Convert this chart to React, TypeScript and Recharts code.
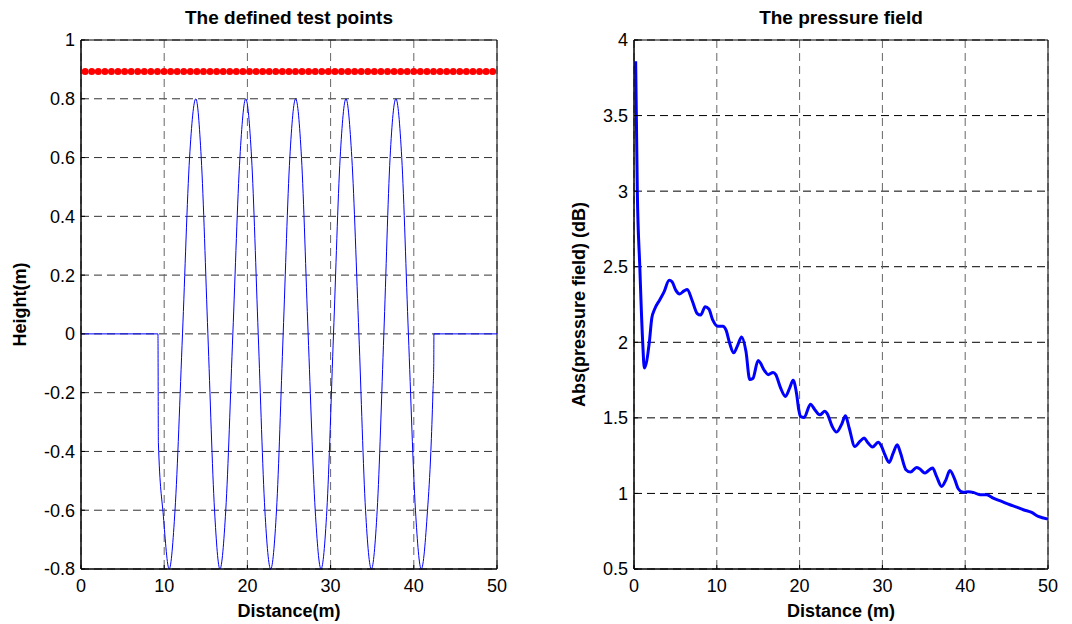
import React from 'react';
import { LineChart, Line, XAxis, YAxis, CartesianGrid, ReferenceArea, Label } from 'recharts';

// left panel: seabed profile and the test points above it
const profileX = [0, 9.25, 9.3, 9.9, 10.6, 11.3, 12.2, 13.05, 13.8, 14.45, 15.25, 16.05, 16.7, 17.4, 18.25, 19.1, 19.8, 20.5, 21.3, 22.1, 22.8, 23.5, 24.3, 25.1, 25.8, 26.5, 27.3, 28.15, 28.85, 29.55, 30.35, 31.15, 31.85, 32.55, 33.4, 34.2, 34.9, 35.6, 36.4, 37.15, 37.85, 38.55, 39.35, 40.2, 40.9, 41.65, 42.05, 42.3, 42.4, 42.42, 50];
const profileY = [0, 0, -0.37, -0.62, -0.8, -0.6, 0, 0.6, 0.8, 0.6, 0, -0.6, -0.8, -0.6, 0, 0.6, 0.8, 0.6, 0, -0.6, -0.8, -0.6, 0, 0.6, 0.8, 0.6, 0, -0.6, -0.8, -0.6, 0, 0.6, 0.8, 0.6, 0, -0.6, -0.8, -0.6, 0, 0.6, 0.8, 0.6, 0, -0.6, -0.8, -0.6, -0.4, -0.2, -0.1, 0, 0];

const testX = [0.5, 1.29, 2.08, 2.87, 3.66, 4.45, 5.24, 6.03, 6.82, 7.61, 8.4, 9.19, 9.98, 10.77, 11.56, 12.35, 13.14, 13.93, 14.72, 15.51, 16.3, 17.09, 17.88, 18.67, 19.46, 20.25, 21.04, 21.83, 22.62, 23.41, 24.2, 24.99, 25.78, 26.57, 27.36, 28.15, 28.94, 29.73, 30.52, 31.31, 32.1, 32.89, 33.68, 34.47, 35.26, 36.05, 36.84, 37.63, 38.42, 39.21, 40.0, 40.79, 41.58, 42.37, 43.16, 43.95, 44.74, 45.53, 46.32, 47.11, 47.9, 48.69, 49.48];
const testHeight = 0.893;

// right panel: pressure along the range
const distX = [0.2, 0.4, 0.7, 1.05, 1.25, 1.85, 2.15, 2.5, 3.1, 3.6, 4.25, 4.6, 5.04, 5.52, 6.04, 6.44, 7.0, 7.64, 8.04, 8.6, 9.04, 9.52, 10.12, 10.72, 11.12, 11.52, 12.04, 12.52, 13.0, 13.52, 13.98, 14.35, 14.99, 15.79, 16.2, 16.8, 17.12, 17.69, 18.29, 18.82, 19.22, 19.62, 19.9, 20.1, 20.55, 21.31, 21.84, 22.44, 23.05, 23.33, 23.93, 24.46, 25.06, 25.54, 25.99, 26.67, 27.28, 27.8, 28.28, 28.8, 29.49, 29.9, 30.3, 30.82, 31.3, 31.79, 32.19, 32.84, 33.4, 34.13, 34.53, 35.13, 35.45, 36.06, 36.54, 37.15, 37.67, 38.15, 38.76, 39.16, 39.76, 40.37, 40.97, 41.78, 42.59, 43.39, 44.4, 45.41, 46.21, 47.02, 48.03, 48.83, 50];
const pressure = [3.86, 3.0, 2.5, 2.0, 1.83, 2.0, 2.16, 2.22, 2.28, 2.33, 2.41, 2.4, 2.345, 2.32, 2.34, 2.35, 2.28, 2.19, 2.18, 2.235, 2.22, 2.146, 2.106, 2.106, 2.08, 2.0, 1.93, 1.98, 2.035, 1.94, 1.753, 1.76, 1.879, 1.81, 1.786, 1.8, 1.786, 1.7, 1.642, 1.7, 1.748, 1.665, 1.554, 1.51, 1.503, 1.59, 1.554, 1.52, 1.543, 1.528, 1.444, 1.406, 1.455, 1.514, 1.433, 1.311, 1.344, 1.366, 1.333, 1.307, 1.338, 1.311, 1.256, 1.205, 1.267, 1.322, 1.267, 1.157, 1.141, 1.172, 1.161, 1.135, 1.146, 1.168, 1.113, 1.046, 1.09, 1.152, 1.09, 1.031, 1.007, 1.011, 1.007, 0.991, 0.991, 0.969, 0.947, 0.925, 0.91, 0.892, 0.874, 0.848, 0.83];

const distTicks = [0, 10, 20, 30, 40, 50];
const heightTicks = [-0.8, -0.6, -0.4, -0.2, 0, 0.2, 0.4, 0.6, 0.8, 1];
const pressureTicks = [0.5, 1, 1.5, 2, 2.5, 3, 3.5, 4];

const profileData = profileX.map((x, i) => ({ x, y: profileY[i] }));
const testData = testX.map(x => ({ x, y: testHeight }));
const pressureData = distX.map((x, i) => ({ x, y: pressure[i] }));

const tickStyle = { fill: '#000', fontSize: 18 };
const axisLabelStyle = { fill: '#000', fontSize: 18, fontWeight: 'bold' as const };

const titleStyle: React.CSSProperties = {
    position: 'absolute', top: 8, fontSize: 19, lineHeight: '19px', fontWeight: 'bold', textAlign: 'center', color: '#000',
};

export default function App() {
    return (
        <div style={{ position: 'absolute', left: 0, top: 0, width: 1072, height: 624, background: '#fff', fontFamily: "'Liberation Sans', Arial, sans-serif" }}>
            <div style={{ ...titleStyle, left: 81, width: 416 }}>The defined test points</div>
            <div style={{ ...titleStyle, left: 634, width: 414 }}>The pressure field</div>

            <div style={{ position: 'absolute', left: 0, top: 0 }}>
                <LineChart width={520} height={624} margin={{ top: 40, right: 23, bottom: 5, left: 0 }}>
                    <CartesianGrid vertical={false} stroke="#333" strokeDasharray="8 5" />
                    <CartesianGrid horizontal={false} stroke="#666" strokeDasharray="8 5" />
                    <XAxis type="number" dataKey="x" domain={[0, 50]} ticks={distTicks} interval={0} tick={tickStyle}
                        stroke="#000" tickSize={-4} tickMargin={14} height={50}>
                        <Label value="Distance(m)" position="insideBottom" offset={2} style={axisLabelStyle} />
                    </XAxis>
                    <YAxis type="number" dataKey="y" domain={[-0.8, 1]} ticks={heightTicks} interval={0} tick={tickStyle}
                        stroke="#000" tickSize={-4} tickMargin={10} width={81}>
                        <Label value="Height(m)" angle={-90} position="insideLeft" offset={20} style={{ ...axisLabelStyle, textAnchor: 'middle' }} />
                    </YAxis>
                    <ReferenceArea x1={0} x2={50} y1={-0.8} y2={1} fill="none" stroke="#000" strokeOpacity={1} />
                    <Line data={profileData} dataKey="y" type="monotone" stroke="#0000ff" strokeWidth={1} dot={false} isAnimationActive={false} />
                    <Line data={testData} dataKey="y" stroke="none" dot={{ r: 3.5, fill: '#ff0000', stroke: 'none' }} isAnimationActive={false} />
                </LineChart>
            </div>

            <div style={{ position: 'absolute', left: 540, top: 0 }}>
                <LineChart width={532} height={624} margin={{ top: 40, right: 24, bottom: 5, left: 0 }}>
                    <CartesianGrid vertical={false} stroke="#000" strokeDasharray="8 5" />
                    <CartesianGrid horizontal={false} stroke="#666" strokeDasharray="8 5" />
                    <XAxis type="number" dataKey="x" domain={[0, 50]} ticks={distTicks} interval={0} tick={tickStyle}
                        stroke="#000" tickSize={-4} tickMargin={14} height={50}>
                        <Label value="Distance (m)" position="insideBottom" offset={2} style={axisLabelStyle} />
                    </XAxis>
                    <YAxis type="number" dataKey="y" domain={[0.5, 4]} ticks={pressureTicks} interval={0} tick={tickStyle}
                        stroke="#000" tickSize={-4} tickMargin={10} width={94}>
                        <Label value="Abs(pressure field) (dB)" angle={-90} position="insideLeft" offset={39} style={{ ...axisLabelStyle, textAnchor: 'middle' }} />
                    </YAxis>
                    <ReferenceArea x1={0} x2={50} y1={0.5} y2={4} fill="none" stroke="#000" strokeOpacity={1} />
                    <Line data={pressureData} dataKey="y" type="monotone" stroke="#0000ff" strokeWidth={3} dot={false} isAnimationActive={false} />
                </LineChart>
            </div>
        </div>
    );
}
